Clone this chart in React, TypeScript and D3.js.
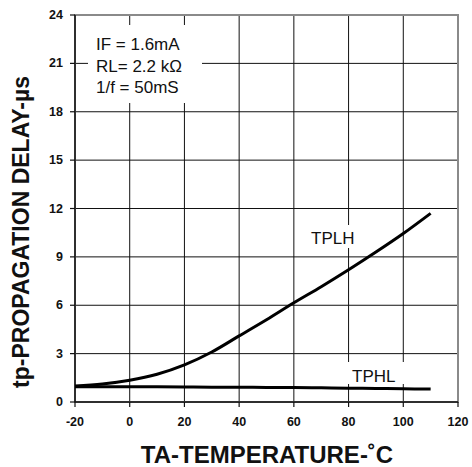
import * as d3 from 'd3';

const temps = [-20, -10, 0, 10, 20, 30, 40, 50, 60, 70, 80, 90, 100, 110];
const tplh = [1.0, 1.12, 1.35, 1.72, 2.3, 3.1, 4.1, 5.1, 6.15, 7.15, 8.2, 9.3, 10.45, 11.7];
const tphl = [0.95, 0.95, 0.94, 0.94, 0.93, 0.92, 0.92, 0.9, 0.9, 0.88, 0.86, 0.84, 0.82, 0.8];
const xTicks = [-20, 0, 20, 40, 60, 80, 100, 120];
const yTicks = [0, 3, 6, 9, 12, 15, 18, 21, 24];
const notes = ['IF = 1.6mA', 'RL= 2.2 kΩ', '1/f = 50mS'];

const W = 472;
const H = 467;
const font = '"Liberation Sans", Arial, sans-serif';

export default function App() {
  const x = d3.scaleLinear().domain([-20, 120]).range([75, 458]);
  const y = d3.scaleLinear().domain([0, 24]).range([402, 15]);

  const line = d3
    .line<number>()
    .x((_, i) => x(temps[i]))
    .y((d) => y(d))
    .curve(d3.curveCatmullRom);

  return (
    <div style={{ position: 'fixed', top: 0, left: 0 }}>
      <svg width={W} height={H} style={{ display: 'block', background: '#fff' }}>
        {/* grid */}
        <g stroke="#111" strokeWidth={1}>
          {xTicks.slice(1, -1).map((t) => (
            <line key={'gx' + t} x1={x(t)} x2={x(t)} y1={y(24)} y2={y(0)} />
          ))}
          {yTicks.slice(1, -1).map((t) => (
            <line key={'gy' + t} x1={x(-20)} x2={x(120)} y1={y(t)} y2={y(t)} />
          ))}
        </g>

        {/* white boxes behind the labels */}
        <g fill="#fff">
          <rect x={88} y={25} width={114} height={78} />
          <rect x={305} y={225} width={58} height={23} />
          <rect x={345} y={362} width={64} height={22} />
        </g>

        {/* frame */}
        <rect x={x(-20)} y={y(24)} width={x(120) - x(-20)} height={y(0) - y(24)}
          fill="none" stroke="#8a8a8a" strokeWidth={2} />
        <line x1={x(-20)} x2={x(-20)} y1={y(24)} y2={y(0)} stroke="#111" strokeWidth={1.5} />
        <line x1={x(-20)} x2={x(120)} y1={y(0)} y2={y(0)} stroke="#111" strokeWidth={1.5} />

        {/* ticks */}
        <g stroke="#111" strokeWidth={1.2}>
          {yTicks.map((t) => (
            <line key={'ty' + t} x1={x(-20) - 5} x2={x(-20)} y1={y(t)} y2={y(t)} />
          ))}
          {xTicks.map((t) => (
            <line key={'tx' + t} x1={x(t)} x2={x(t)} y1={y(0)} y2={y(0) + 5} />
          ))}
        </g>

        <g fontFamily={font} fontWeight="bold" fontSize={12.5} fill="#111">
          {yTicks.map((t) => (
            <text key={'ly' + t} x={63} y={y(t)} textAnchor="end" dominantBaseline="central">
              {t}
            </text>
          ))}
          {xTicks.map((t) => (
            <text key={'lx' + t} x={x(t)} y={422} textAnchor="middle" dominantBaseline="central">
              {t}
            </text>
          ))}
        </g>

        {/* curves */}
        <path d={line(tplh) ?? ''} fill="none" stroke="#000" strokeWidth={3} />
        <path d={line(tphl) ?? ''} fill="none" stroke="#000" strokeWidth={3} />

        <g fontFamily={font} fontSize={17} fill="#111">
          {notes.map((n, i) => (
            <text key={n} x={96} y={50 + i * 21.5}>{n}</text>
          ))}
          <text x={311} y={244}>TPLH</text>
          <text x={352} y={382}>TPHL</text>
        </g>

        {/* axis titles */}
        <text x={267} y={463} textAnchor="middle" fontFamily={font} fontWeight="bold" fontSize={24} fill="#111">
          TA-TEMPERATURE-˚C
        </text>
        <text transform="translate(29,232) rotate(-90)" textAnchor="middle" fontFamily={font}
          fontWeight="bold" fontSize={23} fill="#111">
          tp-PROPAGATION DELAY-µs
        </text>
      </svg>
    </div>
  );
}
